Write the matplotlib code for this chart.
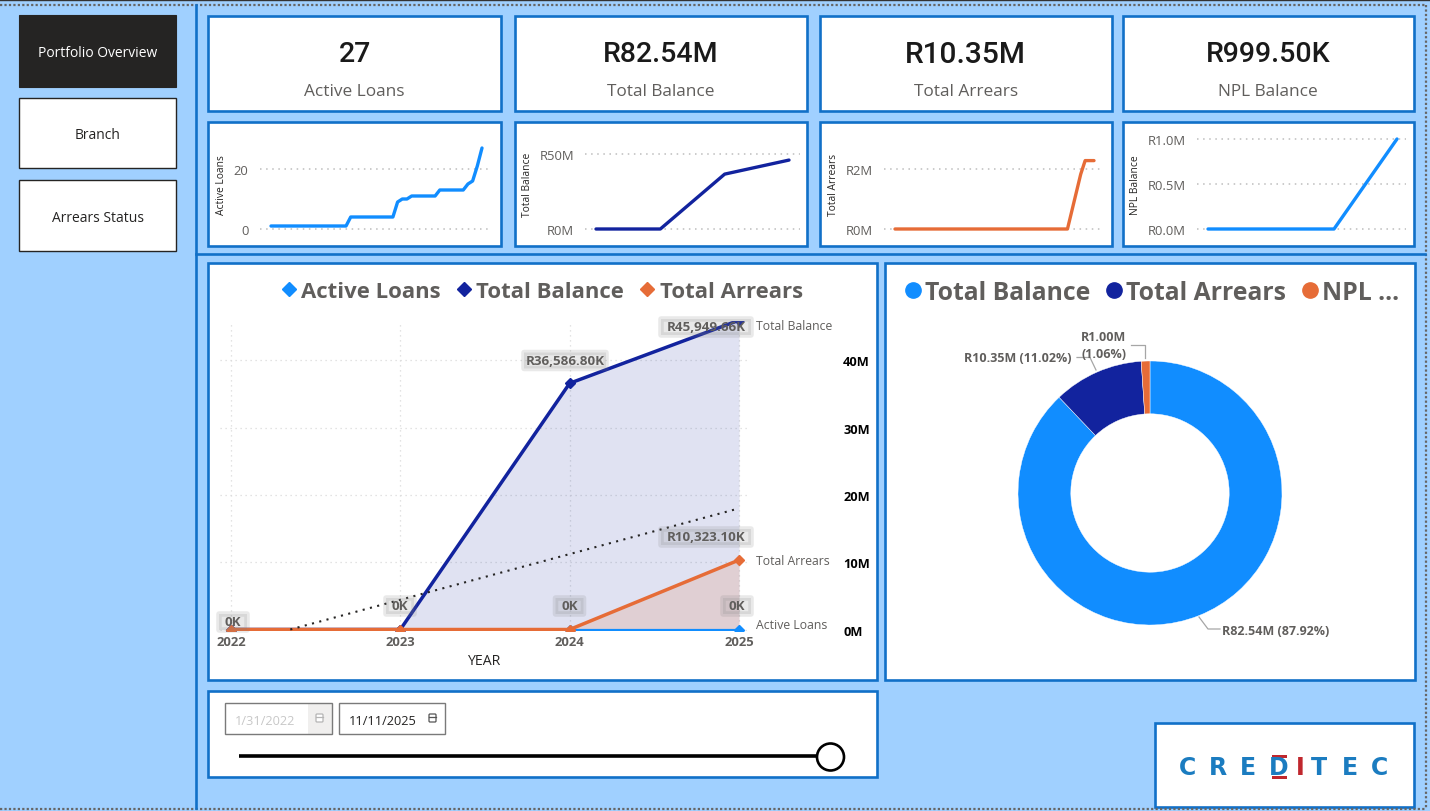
import matplotlib
matplotlib.use("Agg")
import matplotlib.pyplot as plt
from matplotlib.patches import Rectangle, FancyBboxPatch, Circle
from matplotlib.lines import Line2D

plt.rcParams['font.family'] = ['Open Sans', 'DejaVu Sans']

# ---------- data ----------
kpi_values = ["27", "R82.54M", "R10.35M", "R999.50K"]
kpi_labels = ["Active Loans", "Total Balance", "Total Arrears", "NPL Balance"]

loans_values = [1]*17 + [4]*10 + [9, 10, 10] + [11]*6 + [13]*6 + [15, 16, 21, 27]
years = [2022, 2023, 2024, 2025]
balance_m = [0, 0, 36.5868, 45.94966]
arrears_m = [0, 0, 0, 10.3231]
active_m = [0, 0, 0, 0]
npl_m = [0, 0, 0, 1.0]
arrears_month_x = [0, 39, 42, 43, 45]
arrears_month_m = [0, 0, 1.83, 2.28, 2.28]
trend_x = [2022.35, 2025]
trend_m = [0, 18.0]

donut_names = ["Total Balance", "Total Arrears", "NPL ..."]
donut_values = [82.54, 10.35, 1.00]

nav_labels = ["Portfolio Overview", "Branch", "Arrears Status"]
date_from = "1/31/2022"
date_to = "11/11/2025"

# ---------- style ----------
W, H = 1430, 812
BG = "#A0D0FF"
EDGE = "#1170C8"
GREY = "#605E5C"
BLUE = "#118DFF"
NAVY = "#12239E"
ORANGE = "#E66C37"
DOT = (0, (1, 3))

fig = plt.figure(figsize=(W/100, H/100), dpi=100, facecolor=BG)

def px_axes(l, t, r, b, **kw):
    return fig.add_axes([l/W, 1-b/H, (r-l)/W, (b-t)/H], **kw)

root = px_axes(0, 0, W, H, zorder=0)
root.set_xlim(0, W); root.set_ylim(H, 0); root.axis("off")
over = px_axes(0, 0, W, H, zorder=5)
over.set_xlim(0, W); over.set_ylim(H, 0); over.axis("off"); over.patch.set_alpha(0)

def panel(l, t, r, b, edge=EDGE, lw=1.9, face="white", ax=root):
    ax.add_patch(Rectangle((l, t), r-l, b-t, fc=face, ec=edge, lw=lw))

# frame lines of the page
root.plot([0, W], [1, 1], color="#333333", lw=1)
root.plot([0, 1426], [6, 6], color="#666666", lw=1.6, ls=(0, (1, 1)))
root.plot([0, 1426], [809.5, 809.5], color="#666666", lw=1.6, ls=(0, (1, 1)))
root.plot([1425.5, 1425.5], [6, 810], color="#666666", lw=1.6, ls=(0, (1, 1)))
root.plot([196, 196], [6, 809], color=EDGE, lw=1.9)
root.plot([196, 1425], [255, 255], color=EDGE, lw=1.9)

# nav buttons
nav_boxes = [(19, 16, 176, 88), (19, 98.5, 176, 169), (19, 181, 176, 252)]
for i, (box, name) in enumerate(zip(nav_boxes, nav_labels)):
    l, t, r, b = box
    if i == 0:
        panel(l, t, r, b, edge="#252423", lw=0.8, face="#252423")
    else:
        panel(l, t, r, b, edge="#252423", lw=1.0)
    root.text((l+r)/2, (t+b)/2+1.5, name, ha="center", va="center", fontsize=10,
              color="white" if i == 0 else "#252423")

# KPI cards
kpi_x = [(208, 501), (514.5, 807), (819.5, 1112), (1122.5, 1414)]
kpi_sizes = [20.5, 20.5, 21.5, 20.5]
for (l, r), v, lab, fs in zip(kpi_x, kpi_values, kpi_labels, kpi_sizes):
    panel(l, 16.5, r, 112)
    cx = (l+r)/2
    root.text(cx, 55, v, ha="center", va="center", fontsize=fs, color="#1A1A1A", family="Roboto", fontweight=500)
    root.text(cx, 91.5, lab, ha="center", va="center", fontsize=12.4, color=GREY)
    panel(l, 123, r, 247)

# ---------- sparklines ----------
def spark(gl, gr, x0, x1, xv0, xv1, yv0, yv1, py1, xs, ys, color, ticks, ticklabels, label, label_px):
    t, b = 128.0, 240.0
    ax = px_axes(gl, t, gr, b, zorder=2)
    ax.patch.set_alpha(0)
    sx = (xv1-xv0)/(x1-x0)
    ax.set_xlim(xv0+(gl-x0)*sx, xv0+(gr-x0)*sx)
    sy = (yv1-yv0)/(230-py1)
    ax.set_ylim(yv0+(230-b)*sy, yv0+(230-t)*sy)
    ax.plot(xs, ys, color=color, lw=2.4, solid_capstyle="round", solid_joinstyle="round", clip_on=False)
    ax.set_yticks(ticks); ax.set_yticklabels(ticklabels, fontsize=9.4, color=GREY)
    ax.set_xticks([])
    ax.tick_params(axis="y", length=0, pad=8)
    ax.grid(axis="y", color="#BDBDBD", lw=1.1, ls=DOT)
    ax.set_axisbelow(True)
    for s in ax.spines.values():
        s.set_visible(False)
    ax.set_ylabel(label, fontsize=7.4, color="#252423", va="center")
    ax.yaxis.set_label_coords((label_px-gl)/(gr-gl), (b-185)/(b-t))
    return ax

spark(259.5, 491, 271, 482, 0, 45, 0, 20, 170, list(range(len(loans_values))), loans_values, BLUE,
      [0, 20], ["0", "20"], "Active Loans", 222)
spark(585, 800, 596, 789, 2022, 2025, 0, 50, 155, years, balance_m, NAVY,
      [0, 50], ["R0M", "R50M"], "Total Balance", 528)
spark(884, 1103, 895, 1094, 0, 45, 0, 2, 170, arrears_month_x, arrears_month_m, ORANGE,
      [0, 2], ["R0M", "R2M"], "Total Arrears", 833)
spark(1197, 1406, 1208, 1397, 2022, 2025, 0, 1, 140, years, npl_m, BLUE,
      [0, 0.5, 1], ["R0.0M", "R0.5M", "R1.0M"], "NPL Balance", 1136)

# ---------- main chart ----------
panel(208, 263.5, 877, 680.5)
ml, mr, mt, mb = 220, 750, 321.5, 631.5
ax = px_axes(ml, mt, mr, mb, zorder=2)
ax.patch.set_alpha(0)
sx = 3/(739-231)
ax.set_xlim(2022+(ml-231)*sx, 2022+(mr-231)*sx)
sy = 10/67.3
ax.set_ylim((630.5-mb)*sy, (630.5-mt)*sy)
ax.fill_between(years, balance_m, 0, color=NAVY, alpha=0.13, lw=0)
ax.fill_between(years, arrears_m, 0, color=ORANGE, alpha=0.16, lw=0)
l_act, = ax.plot(years, active_m, color=BLUE, lw=2.3, marker="D", ms=5, label="Active Loans")
l_bal, = ax.plot(years, balance_m, color=NAVY, lw=2.5, marker="D", ms=5, label="Total Balance")
l_arr, = ax.plot(years, arrears_m, color=ORANGE, lw=2.5, marker="D", ms=5, label="Total Arrears")
ax.plot(trend_x, trend_m, color="#252423", lw=1.5, ls=(0, (1, 2.6)))
ax.set_xticks(years)
ax.set_xticklabels([str(y) for y in years], fontsize=9.4, fontweight="bold", color=GREY)
ax.yaxis.tick_right()
ax.set_yticks([0, 10, 20, 30, 40])
ax.set_yticklabels(["0M", "10M", "20M", "30M", "40M"], fontsize=9.2, fontweight="bold", color="black", ha="left")
ax.tick_params(axis="y", length=0, pad=67)
ax.tick_params(axis="x", length=0, pad=3)
ax.grid(True, color="#DADADA", lw=0.9, ls=DOT)
ax.set_axisbelow(True)
for s in ax.spines.values():
    s.set_visible(False)
ax.set_xlabel("YEAR", fontsize=10.2, color="#252423", labelpad=3.5)

handles = [Line2D([], [], ls="", marker="D", ms=7, color=c) for c in (BLUE, NAVY, ORANGE)]
main_leg = over.legend(handles, ["Active Loans", "Total Balance", "Total Arrears"], ncol=3, frameon=False,
            loc="center", bbox_to_anchor=(540.5/W, 1-292.5/H), bbox_transform=fig.transFigure,
            prop={"size": 15.9, "weight": "bold"}, labelcolor=GREY, handletextpad=0.05,
            columnspacing=0.55, handlelength=1.0, borderpad=0)
over.add_artist(main_leg)

# value pills and end labels
pills = [("R36,586.80K", 565, 361.5, 88), ("R45,949.66K", 706, 328, 96), ("R10,323.10K", 706, 538, 96),
         ("0K", 233, 623, 34), ("0K", 400, 607, 34), ("0K", 569.5, 607, 34), ("0K", 737, 607, 34)]
for txt, cx, cy, w in pills:
    over.add_patch(FancyBboxPatch((cx-w/2+3, cy-8), w-6, 16, boxstyle="round,pad=0,rounding_size=0",
                                  fc="#808080", ec="#808080", lw=4, alpha=0.17, joinstyle="round"))
    over.text(cx, cy, txt, ha="center", va="center", fontsize=9.6, fontweight="bold", color=GREY)
for txt, y in [("Total Balance", 326.5), ("Total Arrears", 561.5), ("Active Loans", 625.5)]:
    over.text(756, y, txt, ha="left", va="center", fontsize=8.8, color=GREY)

# ---------- donut ----------
panel(884.5, 263.5, 1415, 680.5)
dx = px_axes(1018, 362, 1282, 626, zorder=2)
wedges, _ = dx.pie(donut_values, colors=[BLUE, NAVY, ORANGE], startangle=90, counterclock=False,
                   radius=1.0, wedgeprops={"width": 0.4, "edgecolor": "white", "linewidth": 0.3})
dx.set_xlim(-1, 1); dx.set_ylim(-1, 1)
dh = [Line2D([], [], ls="", marker="o", ms=11, color=c) for c in (BLUE, NAVY, ORANGE)]
donut_leg = over.legend(dh, donut_names, ncol=3, frameon=False, loc="center",
            bbox_to_anchor=(1150/W, 1-293.5/H), bbox_transform=fig.transFigure,
            prop={"size": 17.8, "weight": "bold"}, labelcolor=GREY, handletextpad=0.0,
            columnspacing=0.45, handlelength=1.0, borderpad=0)

leader = "#A6A6A6"
root_lines = [([1199, 1208, 1220], [618, 630, 630]),
              ([1077, 1090, 1096], [358.5, 358.5, 371]),
              ([1131, 1145, 1145], [345.5, 345.5, 359])]
for xs, ys in root_lines:
    over.plot(xs, ys, color=leader, lw=0.9)
over.text(1222, 632, "R82.54M (87.92%)", ha="left", va="center", fontsize=9, fontweight="bold", color=GREY)
over.text(1072, 359, "R10.35M (11.02%)", ha="right", va="center", fontsize=9, fontweight="bold", color=GREY)
over.text(1126, 338, "R1.00M", ha="right", va="center", fontsize=9, fontweight="bold", color=GREY)
over.text(1126, 355, "(1.06%)", ha="right", va="center", fontsize=9, fontweight="bold", color=GREY)

# ---------- date slicer ----------
panel(208, 692, 877, 777.5)
root.add_patch(Rectangle((308, 704), 24, 31, fc="#F0EFEE", ec="none"))
root.add_patch(Rectangle((225, 704), 107, 31, fc="none", ec="#7A7A7A", lw=1.0))
root.add_patch(Rectangle((338.5, 704), 106.5, 31, fc="white", ec="#7A7A7A", lw=1.0))
root.text(235, 722, date_from, ha="left", va="center", fontsize=9.2, color="#C8C8C8")
root.text(349, 722, date_to, ha="left", va="center", fontsize=9.2, color="#252423")
for cx, c in [(319.5, "#B5B5B5"), (432.5, "#555555")]:
    root.add_patch(FancyBboxPatch((cx-3.5, 715), 7, 8, boxstyle="round,pad=0,rounding_size=1", fc="white", ec=c, lw=0.9))
    root.plot([cx-3.5, cx+3.5], [717.5, 717.5], color=c, lw=0.9)
root.plot([239, 818], [757, 757], color="black", lw=2.6, solid_capstyle="butt")
root.add_patch(Circle((830.5, 758), 13.5, fc="white", ec="black", lw=1.9, zorder=4))

# ---------- logo ----------
panel(1155, 724, 1414, 807.5)
logo_letters = [("C", 1187), ("R", 1218), ("E", 1248), ("D", 1279), ("I", 1300), ("T", 1319), ("E", 1350), ("C", 1379)]
for ch, x in logo_letters:
    root.text(x, 768, ch, ha="center", va="center", fontsize=17, fontweight="bold",
              family="DejaVu Sans", color="#C0272D" if ch == "I" else "#1B7CC0")
root.add_patch(Rectangle((1272, 756), 15, 3, fc="#C0272D", ec="none"))
root.add_patch(Rectangle((1272, 777), 15, 3, fc="#C0272D", ec="none"))

fig.savefig("out.png", dpi=100, facecolor=BG)
